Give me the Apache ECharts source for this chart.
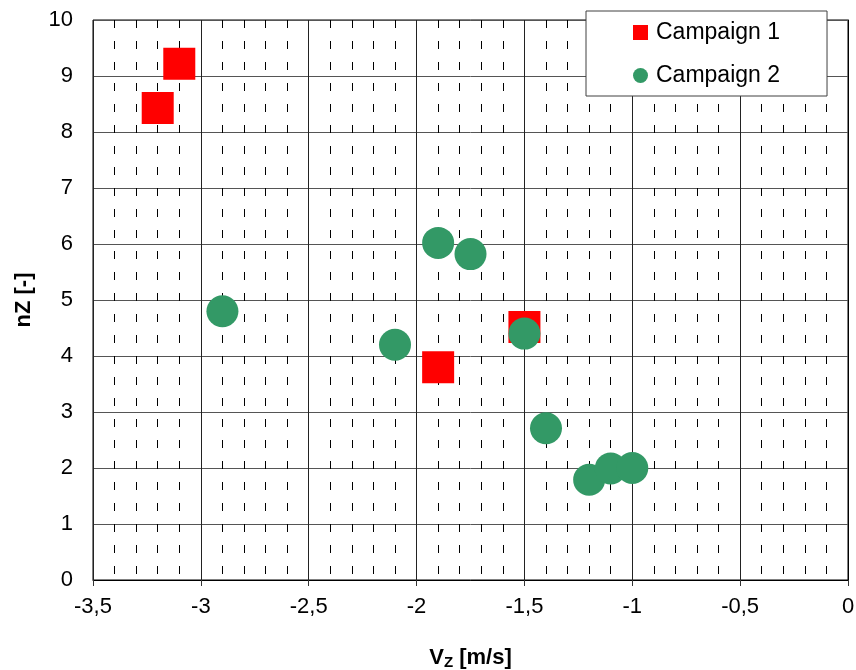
<!DOCTYPE html>
<html>
<head>
<meta charset="utf-8">
<script src="https://cdn.jsdelivr.net/npm/echarts@6/dist/echarts.min.js"></script>
<style>
html,body{margin:0;padding:0;background:#fff;}
#c{width:856px;height:670px;}
</style>
</head>
<body>
<div id="c"></div>
<script>
// Data
const campaign1X = [-3.1, -3.2, -1.9, -1.5];
const campaign1Y = [9.22, 8.43, 3.80, 4.52];
const campaign2X = [-2.9, -2.1, -1.9, -1.75, -1.5, -1.4, -1.2, -1.1, -1.0];
const campaign2Y = [4.80, 4.20, 6.02, 5.82, 4.40, 2.71, 1.79, 1.99, 2.00];
const seriesNames = ['Campaign 1', 'Campaign 2'];
const xTicks = [-3.5, -3, -2.5, -2, -1.5, -1, -0.5, 0];
const yTicks = [0, 1, 2, 3, 4, 5, 6, 7, 8, 9, 10];

const FONT = '"Liberation Sans", Arial, sans-serif';
const pairs = (xs, ys) => xs.map((x, i) => [x, ys[i]]);

const chart = echarts.init(document.getElementById('c'), null, {renderer: 'canvas'});
chart.setOption({
  animation: false,
  backgroundColor: '#fff',
  textStyle: {fontFamily: FONT},
  grid: {left: 93, right: 8, top: 20, bottom: 90, containLabel: false, outerBoundsMode: 'none',
    show: true, borderColor: '#000', borderWidth: 1, backgroundColor: '#fff'},
  legend: {
    orient: 'vertical',
    left: 586, top: 11,
    backgroundColor: '#fff',
    borderColor: '#404040', borderWidth: 1,
    padding: [10, 47, 9, 47],
    itemGap: 20,
    itemWidth: 15, itemHeight: 15,
    textStyle: {fontFamily: FONT, fontSize: 23, color: '#000', lineHeight: 22, padding: [0, 0, 0, 3]},
    data: [
      {name: seriesNames[0], icon: 'rect'},
      {name: seriesNames[1], icon: 'circle'}
    ]
  },
  xAxis: {
    type: 'value',
    min: xTicks[0], max: xTicks[xTicks.length - 1], interval: 0.5,
    name: '{v|V}{s|Z}{t| [m/s]}',
    nameLocation: 'middle',
    nameGap: 66,
    nameTextStyle: {
      rich: {
        v: {fontFamily: FONT, fontSize: 22, fontWeight: 'bold', color: '#000'},
        s: {fontFamily: FONT, fontSize: 15, fontWeight: 'bold', color: '#000', padding: [9, 0, 0, 0]},
        t: {fontFamily: FONT, fontSize: 22, fontWeight: 'bold', color: '#000'}
      }
    },
    axisLine: {show: true, lineStyle: {color: '#000', width: 1}},
    axisTick: {show: true, length: 6, inside: false, lineStyle: {color: '#333'}},
    axisLabel: {fontFamily: FONT, fontSize: 22, color: '#000', margin: 16,
      formatter: v => String(v).replace('.', ',')},
    splitLine: {show: true, lineStyle: {color: '#222', width: 1, type: 'solid'}},
    minorTick: {show: false, splitNumber: 5},
    minorSplitLine: {show: true, lineStyle: {color: '#000', width: 1, type: [8, 13]}}
  },
  yAxis: {
    type: 'value',
    min: yTicks[0], max: yTicks[yTicks.length - 1], interval: 1,
    name: 'nZ [-]',
    nameLocation: 'middle',
    nameGap: 58,
    nameTextStyle: {fontFamily: FONT, fontSize: 22, fontWeight: 'bold', color: '#000'},
    axisLine: {show: true, lineStyle: {color: '#000', width: 1}},
    axisTick: {show: false},
    axisLabel: {fontFamily: FONT, fontSize: 22, color: '#000', margin: 20},
    splitLine: {show: true, lineStyle: {color: '#555', width: 1}}
  },
  series: [
    {
      name: seriesNames[0], type: 'scatter', symbol: 'rect', symbolSize: 32,
      itemStyle: {color: '#FF0000', opacity: 1},
      data: pairs(campaign1X, campaign1Y)
    },
    {
      name: seriesNames[1], type: 'scatter', symbol: 'circle', symbolSize: 32,
      itemStyle: {color: '#339966', opacity: 1},
      data: pairs(campaign2X, campaign2Y)
    }
  ]
});
</script>
</body>
</html>
